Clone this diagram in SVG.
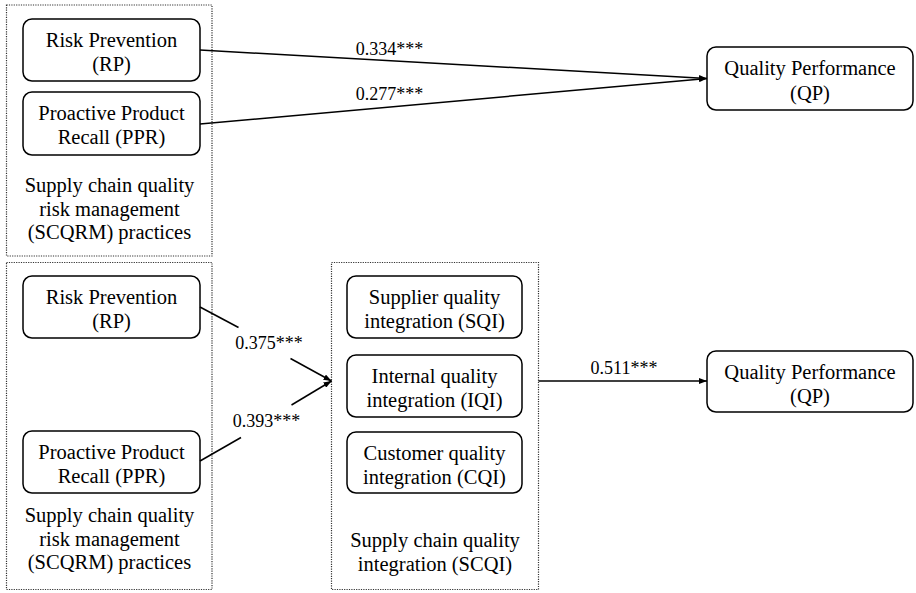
<svg xmlns="http://www.w3.org/2000/svg" width="916" height="593" viewBox="0 0 916 593">
<defs>
<style>
.bg{fill:#ffffff}
.grp{fill:none;stroke:#333333;stroke-width:1.2;stroke-dasharray:1.2 1.2}
.node{fill:#ffffff;stroke:#000000;stroke-width:1.5}
.t{font-family:"Liberation Serif","DejaVu Serif","Noto Serif",serif;font-size:20.5px;fill:#000000;text-anchor:middle}
.lbl{font-family:"Liberation Serif","DejaVu Serif","Noto Serif",serif;font-size:18px;fill:#000000;text-anchor:middle}
.edge{fill:none;stroke:#000000;stroke-width:1.5}
</style>
<marker id="arrow" viewBox="0 0 8 6" refX="8" refY="3" markerWidth="8" markerHeight="6" markerUnits="userSpaceOnUse" orient="auto">
<path d="M0,0 L8,3 L0,6 z" fill="#000000"/>
</marker>
</defs>
<rect class="bg" x="0" y="0" width="916" height="593"/>

<g id="group-scqrm-top">
<rect class="grp" x="6.5" y="5" width="205.5" height="251"/>
<text class="t" x="109.5" y="192">Supply chain quality</text>
<text class="t" x="109.5" y="215.5">risk management</text>
<text class="t" x="109.5" y="239">(SCQRM) practices</text>
</g>
<g id="group-scqrm-bottom">
<rect class="grp" x="6.5" y="262.5" width="205.5" height="327"/>
<text class="t" x="109.5" y="522">Supply chain quality</text>
<text class="t" x="109.5" y="545.5">risk management</text>
<text class="t" x="109.5" y="569">(SCQRM) practices</text>
</g>
<g id="group-scqi">
<rect class="grp" x="331.5" y="262.5" width="207" height="327"/>
<text class="t" x="435" y="547">Supply chain quality</text>
<text class="t" x="435" y="571">integration (SCQI)</text>
</g>

<g id="node-rp-top">
<rect class="node" x="23" y="19" width="177" height="62" rx="9"/>
<text class="t" x="111.5" y="47">Risk Prevention</text>
<text class="t" x="111.5" y="71">(RP)</text>
</g>
<g id="node-ppr-top">
<rect class="node" x="23" y="92" width="177" height="63" rx="9"/>
<text class="t" x="111.5" y="120">Proactive Product</text>
<text class="t" x="111.5" y="144">Recall (PPR)</text>
</g>
<g id="node-qp-top">
<rect class="node" x="707" y="47" width="206" height="63" rx="9"/>
<text class="t" x="810" y="75">Quality Performance</text>
<text class="t" x="810" y="99.5">(QP)</text>
</g>

<g id="node-rp-bottom">
<rect class="node" x="23" y="276" width="177" height="62" rx="9"/>
<text class="t" x="111.5" y="304">Risk Prevention</text>
<text class="t" x="111.5" y="328">(RP)</text>
</g>
<g id="node-ppr-bottom">
<rect class="node" x="23" y="431" width="177" height="62" rx="9"/>
<text class="t" x="111.5" y="459">Proactive Product</text>
<text class="t" x="111.5" y="483">Recall (PPR)</text>
</g>
<g id="node-sqi">
<rect class="node" x="347" y="276" width="175" height="62" rx="9"/>
<text class="t" x="434.5" y="303.5">Supplier quality</text>
<text class="t" x="434.5" y="328">integration (SQI)</text>
</g>
<g id="node-iqi">
<rect class="node" x="347" y="355" width="175" height="62" rx="9"/>
<text class="t" x="434.5" y="383">Internal quality</text>
<text class="t" x="434.5" y="407">integration (IQI)</text>
</g>
<g id="node-cqi">
<rect class="node" x="347" y="432" width="175" height="61" rx="9"/>
<text class="t" x="434.5" y="459.5">Customer quality</text>
<text class="t" x="434.5" y="483.5">integration (CQI)</text>
</g>
<g id="node-qp-bottom">
<rect class="node" x="707" y="351" width="206" height="61" rx="9"/>
<text class="t" x="810" y="378.5">Quality Performance</text>
<text class="t" x="810" y="402.5">(QP)</text>
</g>

<g id="connectors">
<line class="edge" x1="200" y1="50" x2="707" y2="78.5" marker-end="url(#arrow)"/>
<line class="edge" x1="200" y1="124" x2="707" y2="78.5" marker-end="url(#arrow)"/>
<text class="lbl" x="389.5" y="55">0.334***</text>
<text class="lbl" x="389.5" y="100">0.277***</text>

<line class="edge" x1="200" y1="307" x2="238.5" y2="327.5"/>
<line class="edge" x1="290.5" y1="358.5" x2="331.5" y2="381" marker-end="url(#arrow)"/>
<text class="lbl" x="269" y="349">0.375***</text>

<line class="edge" x1="200" y1="461" x2="241" y2="437.5"/>
<line class="edge" x1="291.5" y1="405" x2="331.5" y2="381" marker-end="url(#arrow)"/>
<text class="lbl" x="266.5" y="426.5">0.393***</text>

<line class="edge" x1="538.5" y1="381" x2="707" y2="381" marker-end="url(#arrow)"/>
<text class="lbl" x="624" y="374">0.511***</text>
</g>
</svg>
